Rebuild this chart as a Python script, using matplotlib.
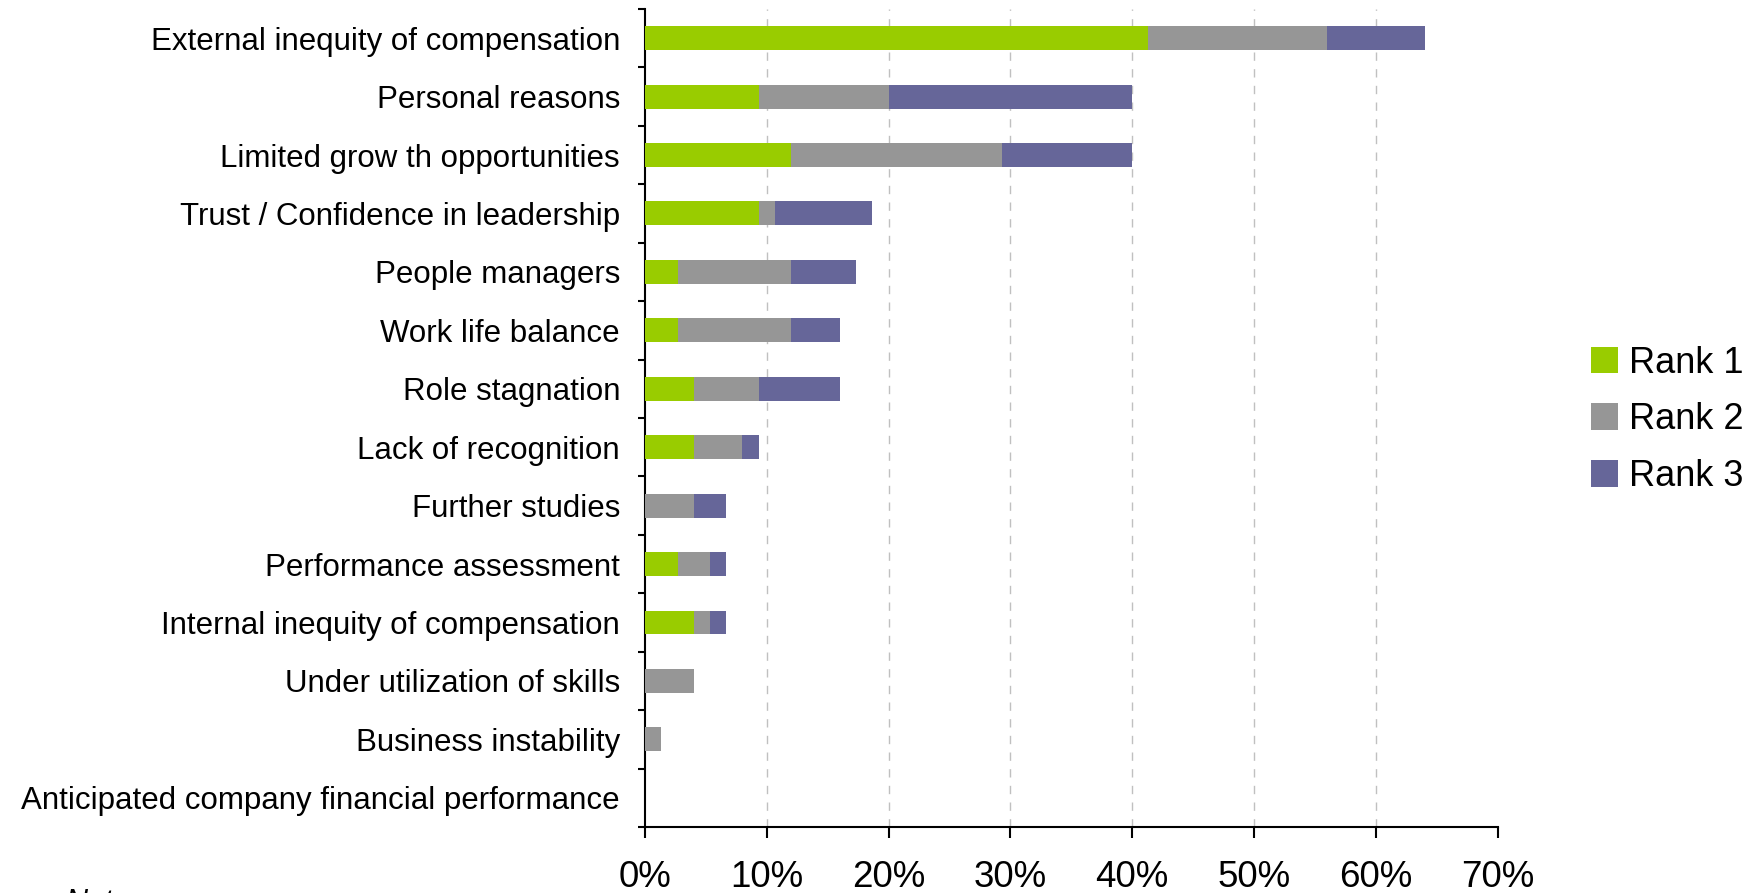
import matplotlib
matplotlib.use("Agg")
import matplotlib.pyplot as plt
import numpy as np

plt.rcParams['font.family'] = ['Liberation Sans', 'DejaVu Sans']

# survey reasons for leaving (share of respondents, %)
reasons = ['External inequity of compensation',
           'Personal reasons',
           'Limited grow th opportunities',
           'Trust / Confidence in leadership',
           'People managers',
           'Work life balance',
           'Role stagnation',
           'Lack of recognition',
           'Further studies',
           'Performance assessment',
           'Internal inequity of compensation',
           'Under utilization of skills',
           'Business instability',
           'Anticipated company financial performance']
rank1 = [41.33, 9.33, 12.0, 9.33, 2.67, 2.67, 4.0, 4.0, 0.0, 2.67, 4.0, 0.0, 0.0, 0.0]
rank2 = [14.67, 10.67, 17.33, 1.33, 9.33, 9.33, 5.33, 4.0, 4.0, 2.67, 1.33, 4.0, 1.33, 0.0]
rank3 = [8.0, 20.0, 10.67, 8.0, 5.33, 4.0, 6.67, 1.33, 2.67, 1.33, 1.33, 0.0, 0.0, 0.0]
series_names = ['Rank 1', 'Rank 2', 'Rank 3']
colors = ['#99CC00', '#969696', '#666699']
xticks = [0, 10, 20, 30, 40, 50, 60, 70]

fig = plt.figure(figsize=(17.59, 8.93), dpi=100)
ax = fig.add_axes([0.3667, 0.0739, 0.4847, 0.9161])

y = np.arange(len(reasons))
r1 = np.array(rank1)
r2 = np.array(rank2)
r3 = np.array(rank3)
h = 0.41
b1 = ax.barh(y, r1, height=h, color=colors[0], label=series_names[0], zorder=3)
b2 = ax.barh(y, r2, height=h, left=r1, color=colors[1], label=series_names[1], zorder=3)
b3 = ax.barh(y, r3, height=h, left=r1 + r2, color=colors[2], label=series_names[2], zorder=3)

ax.set_xlim(0, 70)
ax.set_ylim(len(reasons) - 0.5, -0.5)

# gridlines
for v in xticks[1:-1]:
    ax.axvline(v, color='#c0c0c0', lw=1, ls=(0, (6, 6)), zorder=1)

ax.set_xticks(xticks)
ax.set_xticklabels([f'{v}%' for v in xticks], fontsize=26.5)
ax.tick_params(axis='x', direction='out', length=8, width=1.5, pad=16)

ax.set_yticks(y)
ax.set_yticklabels(reasons, fontsize=22.5)
ax.set_yticks(np.arange(len(reasons) + 1) - 0.5, minor=True)
ax.tick_params(axis='y', which='major', length=0, pad=18)
ax.tick_params(axis='y', which='minor', direction='out', length=5, width=1.5)

for s in ['top', 'right']:
    ax.spines[s].set_visible(False)
for s in ['left', 'bottom']:
    ax.spines[s].set_linewidth(1.5)
    ax.spines[s].set_color('black')

fig.legend(handles=[b1, b2, b3], loc='center left', bbox_to_anchor=(0.886, 0.530),
           frameon=False, fontsize=26, handlelength=0.75, handleheight=0.75,
           handletextpad=0.3, labelspacing=0.6)

fig.text(0.037, -0.02, 'Note:', fontsize=22, style='italic')

fig.savefig('out.png', dpi=100)
